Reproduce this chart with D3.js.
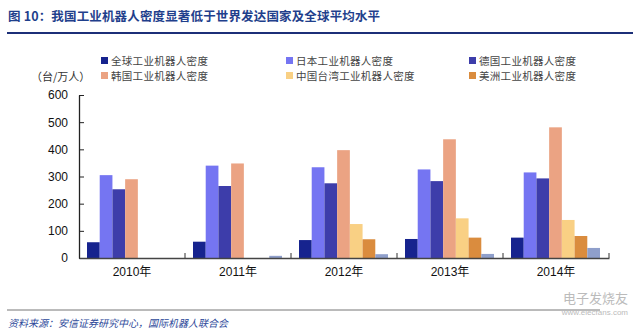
<!DOCTYPE html>
<html>
<head>
<meta charset="utf-8">
<script src="https://cdn.jsdelivr.net/npm/d3@7"></script>
<style>
  html, body { margin: 0; padding: 0; background: #fff; }
  svg { display: block; }
</style>
</head>
<body>
<svg id="chart" width="640" height="333"></svg>
<script>
// Robot density (units per 10,000 workers), 2010–2014
const years = ["2010年", "2011年", "2012年", "2013年", "2014年"];
const seriesNames = ["全球工业机器人密度", "日本工业机器人密度", "德国工业机器人密度",
                     "韩国工业机器人密度", "中国台湾工业机器人密度", "美洲工业机器人密度",
                     "中国工业机器人密度"];
const globalVals  = [58, 60, 66, 70, 75];
const japanVals   = [305, 340, 334, 326, 315];
const germanyVals = [253, 265, 275, 283, 293];
const koreaVals   = [290, 348, 397, 437, 481];
const taiwanVals  = [0, 0, 125, 146, 140];
const americaVals = [0, 0, 69, 75, 81];
const chinaVals   = [0, 8, 14, 15, 37];
const yTicks = [0, 100, 200, 300, 400, 500, 600];

const seriesVals = [globalVals, japanVals, germanyVals, koreaVals, taiwanVals, americaVals, chinaVals];
const colors = ["#16238e", "#7575f2", "#3d3daa", "#eba383", "#f9d084", "#da8c3e", "#8f9fcb"];
// the legend lists the first six series
const legendCount = 6;

const svg = d3.select("#chart");

// heading
svg.append("text")
  .attr("x", 8).attr("y", 21)
  .attr("font-family", "'Noto Sans CJK SC', sans-serif")
  .attr("font-size", 12.5).attr("font-weight", "bold")
  .attr("letter-spacing", 0.15)
  .attr("fill", "#1f3f8c")
  .text("图 10：我国工业机器人密度显著低于世界发达国家及全球平均水平");
svg.append("line")
  .attr("x1", 7).attr("x2", 633).attr("y1", 33).attr("y2", 33)
  .attr("stroke", "#1c2f78").attr("stroke-width", 2);

// scales
const plotLeft = 79, plotRight = 609, plotTop = 95, plotBottom = 258;
const x0 = d3.scaleBand().domain(years).range([plotLeft, plotRight]).padding(0);
const x1 = d3.scaleBand().domain(d3.range(seriesVals.length))
  .range([8, x0.bandwidth() - 9]).padding(0);
const y = d3.scaleLinear().domain([0, 600]).range([plotBottom, plotTop]);

// bars
const groups = svg.append("g").selectAll("g")
  .data(years).join("g")
  .attr("transform", d => `translate(${x0(d)},0)`);
groups.selectAll("rect")
  .data((d, i) => seriesVals.map((vals, s) => ({ s, v: vals[i] })).filter(e => e.v > 0))
  .join("rect")
  .attr("x", d => x1(d.s))
  .attr("width", x1.bandwidth())
  .attr("y", d => y(d.v))
  .attr("height", d => y(0) - y(d.v))
  .attr("fill", d => colors[d.s]);

// y axis
const yAxis = d3.axisLeft(y).tickValues(yTicks).tickSize(5).tickPadding(6).tickSizeOuter(0);
const gy = svg.append("g").attr("transform", `translate(${plotLeft},0)`).call(yAxis);
gy.select(".domain").attr("stroke", "#222").attr("stroke-width", 1.3);
gy.selectAll(".tick line").attr("stroke", "#222").attr("x2", 5);
gy.selectAll(".tick text")
  .attr("font-family", "Arial, 'Liberation Sans', sans-serif")
  .attr("font-size", 12).attr("fill", "#111").attr("x", -11);

// x axis
const xAxis = d3.axisBottom(x0).tickSize(0).tickPadding(9);
const gx = svg.append("g").attr("transform", `translate(0,${plotBottom})`).call(xAxis);
gx.select(".domain").attr("stroke", "#444").attr("stroke-width", 1.3);
gx.selectAll(".tick text")
  .attr("font-family", "Arial, 'Noto Sans CJK SC', sans-serif")
  .attr("font-size", 12).attr("fill", "#111");
// category separators
const sepX = years.slice(1).map(d => x0(d)).concat([plotRight]);
svg.append("g").selectAll("line")
  .data(sepX)
  .join("line")
  .attr("x1", d => d).attr("x2", d => d)
  .attr("y1", plotBottom - 5).attr("y2", plotBottom)
  .attr("stroke", "#333").attr("stroke-width", 1);

// unit label
svg.append("text")
  .attr("x", 31).attr("y", 81)
  .attr("font-family", "'Noto Sans CJK SC', sans-serif")
  .attr("font-size", 11).attr("fill", "#333")
  .text("（台/万人）");

// legend
const legendCols = [101, 286, 469];
const legendRows = [61, 76];
const lg = svg.append("g").selectAll("g")
  .data(seriesNames.slice(0, legendCount))
  .join("g")
  .attr("transform", (d, i) => `translate(${legendCols[i % 3]},${legendRows[Math.floor(i / 3)]})`);
lg.append("rect")
  .attr("x", 0).attr("y", -4).attr("width", 7).attr("height", 7)
  .attr("fill", (d, i) => colors[i]);
lg.append("text")
  .attr("x", 10).attr("y", 4)
  .attr("font-family", "'Noto Sans CJK SC', sans-serif")
  .attr("font-size", 10.5).attr("letter-spacing", 0.3).attr("fill", "#444")
  .text(d => d);

// source note
svg.append("line")
  .attr("x1", 7).attr("x2", 600).attr("y1", 310).attr("y2", 310)
  .attr("stroke", "#777").attr("stroke-width", 1);
svg.append("text")
  .attr("x", 8).attr("y", 327)
  .attr("font-family", "'Noto Sans CJK SC', sans-serif")
  .attr("font-size", 10).attr("font-style", "italic")
  .attr("fill", "#2e4a9a")
  .text("资料来源：安信证券研究中心，国际机器人联合会");

// site mark
svg.append("text")
  .attr("x", 628).attr("y", 303).attr("text-anchor", "end")
  .attr("font-family", "'Noto Sans CJK SC', sans-serif")
  .attr("font-size", 13).attr("fill", "#bbb")
  .text("电子发烧友");
svg.append("text")
  .attr("x", 628).attr("y", 315).attr("text-anchor", "end")
  .attr("font-family", "Arial, sans-serif")
  .attr("font-size", 8).attr("fill", "#bbb")
  .text("www.elecfans.com");
</script>
</body>
</html>
